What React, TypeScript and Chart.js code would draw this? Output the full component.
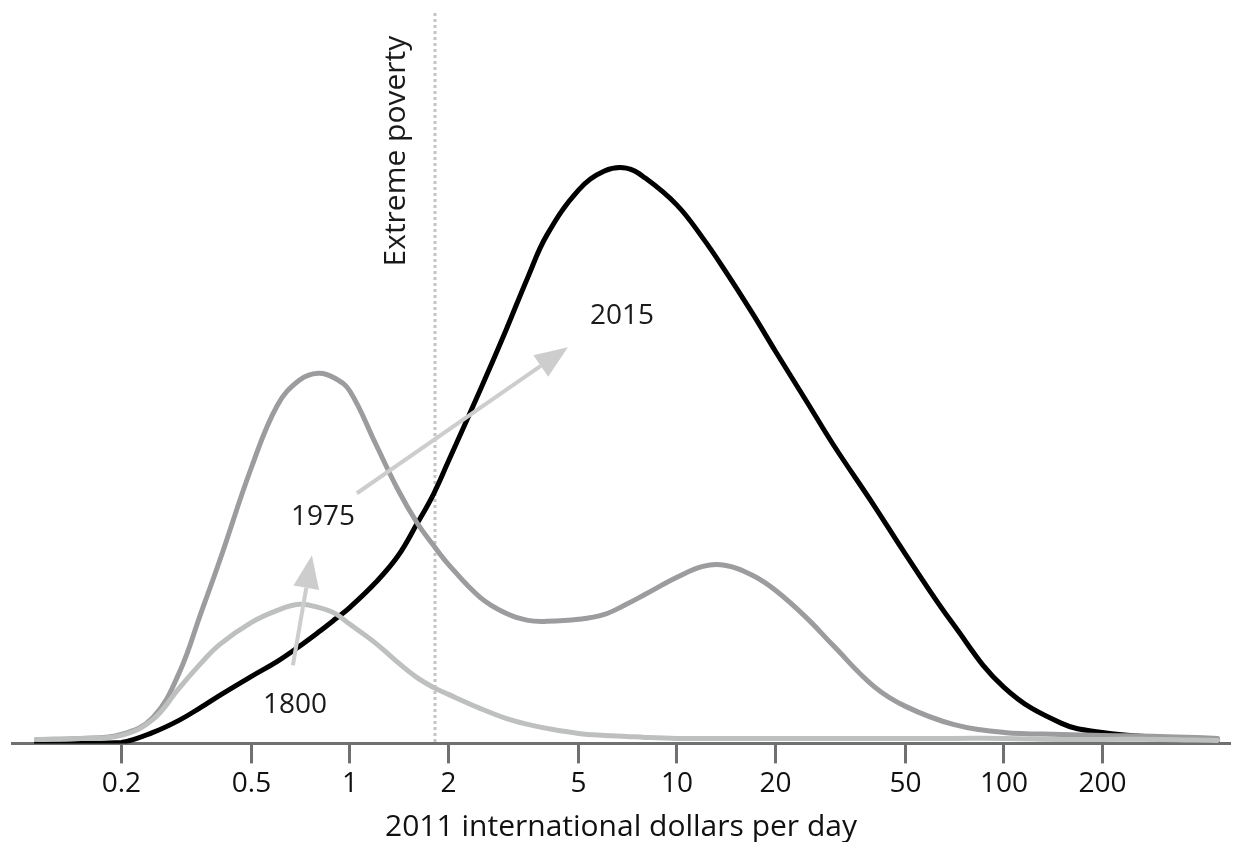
import React, { useEffect, useRef } from "react";
import { Chart, registerables } from "chart.js";

Chart.register(...registerables);

// ---- Data ----
// Income levels (2011 international dollars per day) at which densities were read
const INCOME = [
  0.11, 0.15, 0.2, 0.25, 0.3, 0.35, 0.4, 0.5, 0.6, 0.7,
  0.8, 0.9, 1, 1.2, 1.4, 1.6, 1.8, 2, 2.5, 3,
  3.5, 4, 5, 6, 7, 8, 10, 12, 14, 17,
  20, 25, 30, 40, 50, 70, 100, 150, 200, 300,
  450,
];

// Relative population density (arbitrary units)
const DENSITY_1800 = [
  4, 5, 8, 24, 55, 80, 99, 121, 133, 139,
  136, 130, 119, 100, 81, 66, 56, 49, 35, 25,
  19, 15, 10, 8, 7, 6, 5, 5, 5, 5,
  5, 5, 5, 5, 5, 5, 5, 4, 4, 4,
  3,
];

const DENSITY_1975 = [
  4, 5, 9, 26, 70, 130, 183, 276, 338, 363,
  370, 365, 352, 299, 254, 221, 198, 179, 146, 130,
  123, 122, 124, 129, 139, 149, 166, 177, 178, 168,
  153, 125, 98, 57, 37, 19, 11, 9, 8, 7,
  5,
];

const DENSITY_2015 = [
  0, 0, 1, 11, 23, 36, 48, 67, 82, 97,
  111, 124, 136, 161, 187, 219, 249, 282, 353, 413,
  466, 508, 553, 572, 575, 565, 538, 505, 473, 430,
  392, 341, 299, 238, 189, 119, 56, 20, 11, 6,
  3,
];

const X_TICKS = [0.2, 0.5, 1, 2, 5, 10, 20, 50, 100, 200];
const X_TICK_LABELS = ["0.2", "0.5", "1", "2", "5", "10", "20", "50", "100", "200"];
const X_MIN = 0.0926;
const X_MAX = 491;
const Y_MAX = 743;

const X_TITLE = "2011 international dollars per day";

// Annotations (data coordinates)
const POVERTY_LINE = 1.82;
const POVERTY_LINE_TOP = 730;
const POVERTY_LABEL = { text: "Extreme poverty", x: 1.39, y: 592 };
const YEAR_LABELS = [
  { text: "1800", x: 0.679, y: 38 },
  { text: "1975", x: 0.827, y: 226 },
  { text: "2015", x: 6.79, y: 427 },
];
const ARROWS = [
  { fromX: 0.669, fromY: 78, toX: 0.765, toY: 188 },
  { fromX: 1.05, fromY: 250, toX: 4.64, toY: 396 },
];

const FONT = "'Open Sans', 'Noto Sans', sans-serif";

const toPoints = (ys: number[]) => INCOME.map((x, i) => ({ x, y: ys[i] }));

const annotationPlugin = {
  id: "annotations",
  beforeDatasetsDraw(chart: any) {
    const { ctx, scales } = chart;
    const x = scales.x.getPixelForValue(POVERTY_LINE);
    const yTop = scales.y.getPixelForValue(POVERTY_LINE_TOP);
    const yBot = scales.y.getPixelForValue(0);
    ctx.save();
    ctx.strokeStyle = "#c4c4c4";
    ctx.lineWidth = 3;
    ctx.setLineDash([3, 3]);
    ctx.beginPath();
    ctx.moveTo(x, yTop);
    ctx.lineTo(x, yBot);
    ctx.stroke();
    ctx.restore();
  },
  afterDatasetsDraw(chart: any) {
    const { ctx, scales } = chart;
    const sx = scales.x;
    const sy = scales.y;
    ctx.save();
    // arrows
    ctx.strokeStyle = "#cdcdcd";
    ctx.fillStyle = "#cdcdcd";
    ctx.lineWidth = 4;
    ARROWS.forEach((a) => {
      const x1 = sx.getPixelForValue(a.fromX);
      const y1 = sy.getPixelForValue(a.fromY);
      const x2 = sx.getPixelForValue(a.toX);
      const y2 = sy.getPixelForValue(a.toY);
      const ang = Math.atan2(y2 - y1, x2 - x1);
      const headLen = 33;
      const headHalf = 13;
      const bx = x2 - headLen * Math.cos(ang);
      const by = y2 - headLen * Math.sin(ang);
      ctx.beginPath();
      ctx.moveTo(x1, y1);
      ctx.lineTo(bx, by);
      ctx.stroke();
      ctx.beginPath();
      ctx.moveTo(x2, y2);
      ctx.lineTo(bx + headHalf * Math.sin(ang), by - headHalf * Math.cos(ang));
      ctx.lineTo(bx - headHalf * Math.sin(ang), by + headHalf * Math.cos(ang));
      ctx.closePath();
      ctx.fill();
    });
    // year labels
    ctx.fillStyle = "#1a1a1a";
    ctx.font = `28px ${FONT}`;
    ctx.textAlign = "center";
    ctx.textBaseline = "middle";
    YEAR_LABELS.forEach((l) => {
      ctx.fillText(l.text, sx.getPixelForValue(l.x), sy.getPixelForValue(l.y));
    });
    // poverty label (rotated)
    ctx.save();
    ctx.translate(sx.getPixelForValue(POVERTY_LABEL.x), sy.getPixelForValue(POVERTY_LABEL.y));
    ctx.rotate(-Math.PI / 2);
    ctx.font = `30px ${FONT}`;
    ctx.fillText(POVERTY_LABEL.text, 0, 0);
    ctx.restore();
    ctx.restore();
  },
};

export default function App() {
  const canvasRef = useRef<HTMLCanvasElement | null>(null);

  useEffect(() => {
    document.body.style.margin = "0";
    const canvas = canvasRef.current;
    if (!canvas) return;
    const lineStyle = {
      borderWidth: 5,
      pointRadius: 0,
      fill: false,
      tension: 0.4,
      borderJoinStyle: "round",
      borderCapStyle: "round",
    };
    const chart = new Chart(canvas, {
      type: "line",
      data: {
        datasets: [
          { label: "1800", data: toPoints(DENSITY_1800), borderColor: "#bec0bf", order: 1, ...lineStyle },
          { label: "1975", data: toPoints(DENSITY_1975), borderColor: "#9c9c9e", order: 2, ...lineStyle },
          { label: "2015", data: toPoints(DENSITY_2015), borderColor: "#000000", order: 3, ...lineStyle },
        ],
      },
      options: {
        animation: false,
        responsive: true,
        maintainAspectRatio: false,
        layout: { padding: { left: 12, right: 6, top: 0, bottom: 0 } },
        plugins: {
          legend: { display: false },
          tooltip: { enabled: false },
        },
        scales: {
          x: {
            type: "logarithmic",
            min: X_MIN,
            max: X_MAX,
            afterBuildTicks: (scale: any) => {
              scale.ticks = X_TICKS.map((v) => ({ value: v }));
            },
            ticks: {
              autoSkip: false,
              maxRotation: 0,
              minRotation: 0,
              padding: 4,
              color: "#111111",
              font: { family: FONT, size: 28, lineHeight: 1.2 },
              callback: (_v: any, i: number) => X_TICK_LABELS[i],
            },
            grid: {
              display: true,
              drawOnChartArea: false,
              drawTicks: true,
              tickLength: 20,
              tickWidth: 3,
              tickColor: "#707070",
            },
            border: { display: true, color: "#707070", width: 3 },
            title: {
              display: true,
              text: X_TITLE,
              color: "#111111",
              font: { family: FONT, size: 30, lineHeight: 1 },
              padding: { top: 7, bottom: 0 },
            },
          },
          y: {
            display: false,
            min: 0,
            max: Y_MAX,
          },
        },
      } as any,
      plugins: [annotationPlugin],
    });
    return () => chart.destroy();
  }, []);

  return (
    <div style={{ width: 1236, height: 842, position: "relative" }}>
      <canvas ref={canvasRef} />
    </div>
  );
}
